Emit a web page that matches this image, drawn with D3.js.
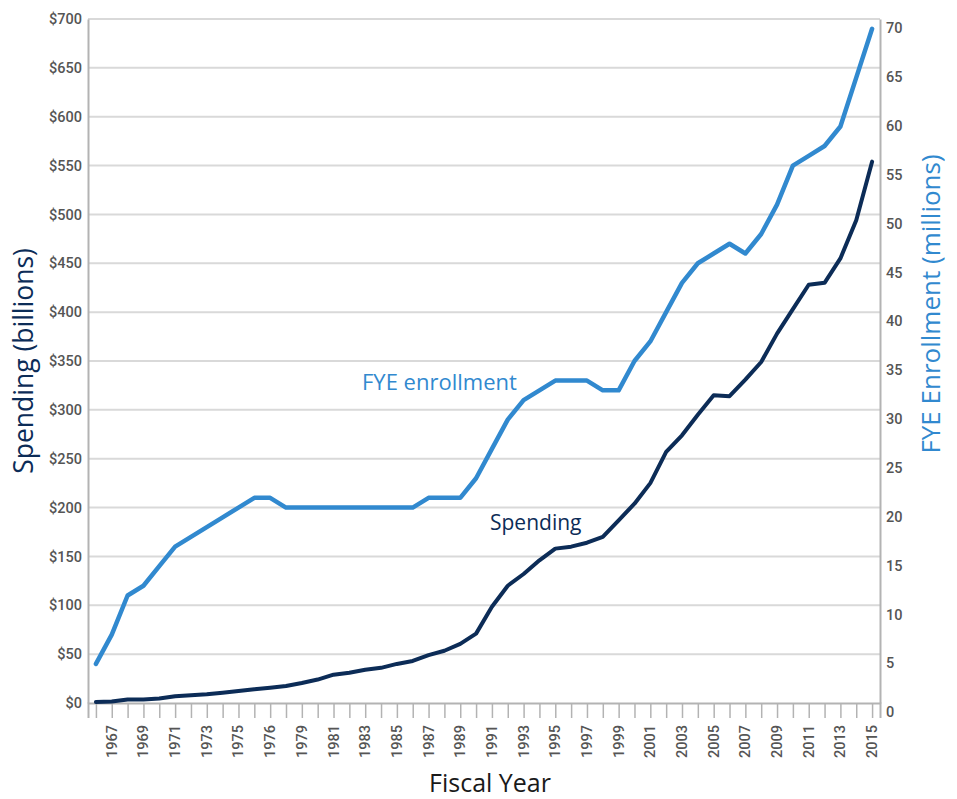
<!DOCTYPE html>
<html>
<head>
<meta charset="utf-8">
<script src="https://cdn.jsdelivr.net/npm/d3@7"></script>
<style>
  body { margin: 0; background: #fff; }
  svg { display: block; }
</style>
</head>
<body>
<svg id="chart"></svg>
<script>
// fiscal years 1966..2015
const years = d3.range(1966, 2016)

// spending, billions of dollars
const spending = [1, 1.5, 3.5, 3.5, 4.7, 7, 8, 9, 10.5, 12.3, 14, 15.7, 17.4, 20.5, 24,
  29, 31, 34, 36, 40, 43, 49, 53.5, 60.5, 71, 98.5, 120, 132, 146, 158, 160, 164,
  170, 187, 204, 225, 257, 274, 295, 315, 314, 331, 349, 378, 403, 428, 430, 455, 494, 554]

// FYE enrollment, millions
const enrollment = [4, 7, 11, 12, 14, 16, 17, 18, 19, 20, 21, 21, 20, 20, 20, 20, 20, 20, 20,
  20, 20, 21, 21, 21, 23, 26, 29, 31, 32, 33, 33, 33, 32, 32, 35, 37, 40, 43, 45, 46,
  47, 46, 48, 51, 55, 56, 57, 59, 64, 69]

// labels under every other year (as printed on the original)
const tickLabels = ['1967','1969','1971','1973','1975','1976','1979','1981','1983','1985',
  '1987','1989','1991','1993','1995','1997','1999','2001','2003','2005','2007','2009',
  '2011','2013','2015']

const leftTicks = d3.range(0, 701, 50)
const rightTicks = d3.range(0, 71, 5)

let width = 957, height = 799
let mLeft = 88, mRight = 880, mTop = 19, mBottom = 703

let svg = d3.select('#chart')
            .attr('width', width)
            .attr('height', height)

let x = d3.scalePoint()
          .domain(years)
          .range([mLeft, mRight])
          .padding(0.5)

let yL = d3.scaleLinear().domain([0, 700]).range([mBottom, mTop])
let yR = d3.scaleLinear().domain([0, 70]).range([mBottom, mTop])

// gridlines
svg.append('g')
    .selectAll('line')
    .data(leftTicks.slice(1))
    .enter()
    .append('line')
    .attr('x1', mLeft).attr('x2', mRight)
    .attr('y1', d=>yL(d)).attr('y2', d=>yL(d))
    .attr('stroke', '#d9d9d9')
    .attr('stroke-width', 2)

// left axis
let gL = svg.append('g')
    .attr('transform', `translate(${mLeft},0)`)
    .call(d3.axisLeft(yL).tickValues(leftTicks).tickSize(0).tickPadding(6).tickFormat(d=>'$' + d))
gL.select('.domain').attr('stroke', '#b3b3b3').attr('stroke-width', 2)
gL.selectAll('text')
    .attr('font-family', 'Roboto, sans-serif')
    .attr('font-size', 14.5)
    .attr('font-weight', 500)
    .attr('fill', '#555')

// right axis (labels sit a bit low in the original)
let gR = svg.append('g')
    .attr('transform', `translate(${mRight},0)`)
    .call(d3.axisRight(yR).tickValues(rightTicks).tickSize(0).tickPadding(6))
gR.select('.domain').attr('stroke', '#b3b3b3').attr('stroke-width', 2)
gR.selectAll('text')
    .attr('font-family', 'Roboto, sans-serif')
    .attr('font-size', 14.5)
    .attr('font-weight', 500)
    .attr('fill', '#555')
    .attr('dy', '0.95em')

// bottom axis
let gB = svg.append('g')
    .attr('transform', `translate(0,${mBottom})`)
    .call(d3.axisBottom(x).tickSize(15).tickFormat(''))
gB.select('.domain').attr('stroke', '#b3b3b3').attr('stroke-width', 2)
gB.selectAll('.tick line').attr('stroke', '#b3b3b3').attr('stroke-width', 1.5)

svg.append('g')
    .selectAll('text')
    .data(tickLabels)
    .enter()
    .append('text')
    .attr('transform', d=>`translate(${x(+d === 1976 ? 1977 : +d) + 5},${mBottom + 22}) rotate(-90)`)
    .attr('text-anchor', 'end')
    .attr('font-family', 'Roboto, sans-serif')
    .attr('font-size', 14.5)
    .attr('font-weight', 500)
    .attr('fill', '#555')
    .text(d=>d)

// lines
let lineL = d3.line().x((d, i)=>x(years[i])).y(d=>yL(d))
let lineR = d3.line().x((d, i)=>x(years[i])).y(d=>yR(d))

svg.append('path')
    .datum(enrollment)
    .attr('d', lineR)
    .attr('fill', 'none')
    .attr('stroke', '#3189cf')
    .attr('stroke-width', 4.5)
    .attr('stroke-linejoin', 'round')
    .attr('stroke-linecap', 'round')

svg.append('path')
    .datum(spending)
    .attr('d', lineL)
    .attr('fill', 'none')
    .attr('stroke', '#0c2c57')
    .attr('stroke-width', 4)
    .attr('stroke-linejoin', 'round')
    .attr('stroke-linecap', 'round')

// series labels
svg.append('text')
    .attr('x', 362).attr('y', 390)
    .attr('font-family', '"Open Sans", sans-serif')
    .attr('font-size', 22)
    .attr('fill', '#3189cf')
    .text('FYE enrollment')

svg.append('text')
    .attr('x', 490).attr('y', 530)
    .attr('font-family', '"Open Sans", sans-serif')
    .attr('font-size', 21)
    .attr('fill', '#0c2c57')
    .text('Spending')

// axis titles
svg.append('text')
    .attr('transform', 'translate(33,361) rotate(-90)')
    .attr('text-anchor', 'middle')
    .attr('font-family', '"Open Sans", sans-serif')
    .attr('font-size', 26.5)
    .attr('fill', '#0c2c57')
    .text('Spending (billions)')

svg.append('text')
    .attr('transform', 'translate(940,304) rotate(-90)')
    .attr('text-anchor', 'middle')
    .attr('font-family', '"Open Sans", sans-serif')
    .attr('font-size', 26)
    .attr('fill', '#3189cf')
    .text('FYE Enrollment (millions)')

svg.append('text')
    .attr('x', 490).attr('y', 792)
    .attr('text-anchor', 'middle')
    .attr('font-family', '"Open Sans", sans-serif')
    .attr('font-size', 25)
    .attr('fill', '#1a1a1a')
    .text('Fiscal Year')
</script>
</body>
</html>
